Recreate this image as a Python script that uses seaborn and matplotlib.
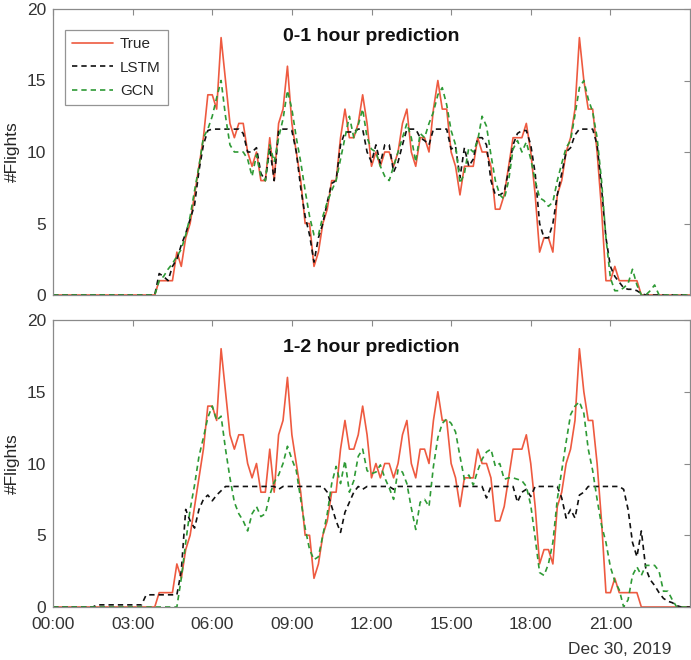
import numpy as np
import pandas as pd
import matplotlib
matplotlib.use("Agg")
import matplotlib.pyplot as plt
import matplotlib.dates as mdates
import seaborn as sns

# ---------------- data (10-minute resolution, Dec 30 2019) ----------------
times = pd.date_range("2019-12-30 00:00", periods=145, freq="10min")

true_flights = ([0] * 24 +
    [1, 1, 1, 1, 3, 2, 4, 5, 7, 9, 11, 14,
     14, 13, 18, 15, 12, 11, 12, 12, 10, 9, 10, 8,
     8, 11, 8, 12, 13, 16, 12, 10, 8, 5, 5, 2,
     3, 5, 6, 8, 8, 11, 13, 11, 11, 12, 14, 12,
     9, 10, 9, 10, 10, 9, 10, 12, 13, 10, 9, 11,
     11, 10, 13, 15, 13, 13, 10, 9, 7, 9, 9, 9,
     11, 10, 10, 9, 6, 6, 7, 9, 11, 11, 11, 12,
     10, 7, 3, 4, 4, 3, 7, 8, 10, 11, 13, 18,
     15, 13, 13, 10, 6, 1, 1, 2, 1, 1, 1, 1,
     1] + [0] * 12)

lstm_1h = ([0] * 24 +
    [1.5, 1.3, 1, 2, 2.5, 3.5, 4.3, 5.3, 6.3, 8.7, 10.5, 11.5] +
    [11.6] * 7 +
    [11.3, 10, 10, 10.3, 8.5,
     8, 10.3, 8, 11.5, 11.6, 11.6, 11.5, 10, 7.5, 5.5, 4.2, 2.3,
     4, 5, 6.5, 7.8, 8, 10.5, 11.4, 11.4, 11.4, 11.6, 11.6, 10,
     9.3, 10.5, 9.2, 10.5, 10.5, 8.6, 9.3, 10.5, 11.6, 11.6, 11.6, 11,
     10.8, 10.5, 11.6, 11.6, 11.6, 11.6, 10.2, 10.4, 8.2, 10.3, 9, 9.5,
     11, 11, 10.5, 8, 7, 7, 7.2, 8.7, 10.5, 11.3, 11.5, 11.5,
     10.5, 8.5, 5, 4, 4, 5, 7, 8.5, 10, 10.3, 11.2, 11.6,
     11.6, 11.6, 11.6, 10.5, 7.5, 4, 2, 1.3, 0.9, 0.5, 0.4, 0.4,
     0.3, 0.1] + [0] * 11)

gcn_1h = ([0] * 24 +
    [1, 1.3, 1.8, 2.2, 2.7, 3.2, 4.2, 5.5, 7.3, 9, 11, 11.6,
     12.5, 13.8, 15, 12.5, 10.5, 10, 10, 10, 9.5, 8.3, 9.8, 8.3,
     8, 10.5, 9.3, 11, 12.3, 14.3, 13, 11, 9.3, 7.3, 5.5, 4.2,
     4.2, 5.5, 6.5, 7.3, 8, 9.5, 11, 12.5, 11, 11.9, 13, 11,
     10.2, 10, 9, 8.3, 8, 9, 10, 11, 12, 11, 9.3, 11.3,
     11, 12, 12.8, 14, 14.5, 13.3, 11.5, 10.5, 7.8, 8.5, 10.3, 10,
     10.8, 12.5, 11.8, 9.8, 8, 7, 6.7, 8, 10.2, 10.8, 10, 10.7,
     9.5, 8, 6.8, 6.6, 6.2, 6.5, 8, 9.2, 10.3, 10.8, 12.6, 14.5,
     15, 13.7, 12.8, 11, 8, 4, 1.2, 0.3, 0.3, 0.5, 0.8, 1.8,
     0.7, 0, 0, 0.3, 0.7, 0] + [0] * 7)

lstm_2h = ([0] * 10 + [0.15] * 11 + [0.8] + [0.85] * 7 +
    [2.5, 6.8, 6, 5.5, 6.8, 7.5, 7.8,
     7.4, 7.8, 8.1, 8.4] + [8.4] * 8 +
    [8.4, 8.4, 8.4, 8.2] + [8.4] * 8 +
    [8.4, 8.4, 8, 7, 6, 5.2, 6.6, 7.3, 8, 8.4, 8.2, 8.4] +
    [8.4] * 5 + [8.2] + [8.4] * 6 +
    [8.4] * 12 +
    [8.4, 8.4, 7.6, 8.4] + [8.4] * 5 + [7.3, 8.0, 8.2,
     7.7, 8.4] + [8.4] * 5 + [7.6, 6.2, 6.8, 6.2, 7.8,
     8.0, 8.4] + [8.4] * 7 + [8.2, 6.8, 4.5,
     3.5, 5.3, 2.7, 1.9, 1.5, 1.0, 0.6, 0.4, 0.3, 0.1] + [0] * 3)

gcn_2h = ([0] * 29 +
    [2, 4.5, 6.8, 8.5, 10.5, 11.8, 13.2,
     14, 13, 13.3, 11, 9, 7.3, 6.5, 6, 5.3, 6.5, 7, 6.3,
     6.5, 7.8, 8.7, 9.2, 10, 11.2, 10.3, 9.5, 7.5, 5.5, 4, 3.3,
     3.5, 5, 6.5, 8.6, 9.8, 8.6, 10.2, 8, 8.8, 10.5, 11, 9.5,
     9.3, 9.4, 9.9, 9, 8.3, 7.5, 9.6, 9.4, 8.6, 6.9, 5.4, 7.3,
     7.5, 7, 9.8, 11.8, 12.8, 13.1, 12.8, 12.2, 10.5, 8.9, 9.2, 8.5,
     9.5, 10.3, 10.8, 11, 9.8, 10, 8.9, 9, 9, 8.9, 8.8, 8.4,
     7.1, 4.8, 2.4, 2.2, 3, 4.5, 7.5, 9.5, 11.5, 13.4, 14, 14.3,
     13.5, 11, 9.5, 7.5, 5.7, 4.5, 2.8, 1.8, 1.2, 0, 0.5, 2.2,
     2.8, 2.2, 2.9, 2.9, 2.9, 2.5, 1.1, 1.1, 0.5, 0] + [0] * 3)

series_names = ["True", "LSTM", "GCN"]
panel_titles = ["0-1 hour prediction", "1-2 hour prediction"]
y_ticks = [0, 5, 10, 15, 20]
x_tick_times = pd.date_range("2019-12-30 00:00", periods=8, freq="3h")
date_label = "Dec 30, 2019"

# ---------------- style ----------------
sns.set_style("white")
plt.rcParams["font.family"] = ["Liberation Sans", "DejaVu Sans"]
plt.rcParams["axes.edgecolor"] = "#8a8a8a"
plt.rcParams["xtick.color"] = "#8a8a8a"
plt.rcParams["ytick.color"] = "#8a8a8a"
plt.rcParams["xtick.labelcolor"] = "#333333"
plt.rcParams["ytick.labelcolor"] = "#333333"

palette = {"True": "#EE5A40", "LSTM": "#111111", "GCN": "#2E9A35"}
dashes = {"True": "", "LSTM": (3.2, 2.4), "GCN": (3.2, 2.4)}

fig = plt.figure(figsize=(6.91, 6.60), dpi=100)
ax1 = fig.add_axes([53 / 691, 1 - 295 / 660, 637 / 691, 286 / 660])
ax2 = fig.add_axes([53 / 691, 1 - 607 / 660, 637 / 691, 287 / 660])

panels = [(ax1, lstm_1h, gcn_1h), (ax2, lstm_2h, gcn_2h)]
for k, (ax, lstm, gcn) in enumerate(panels):
    df = pd.DataFrame({
        "time": list(times) * 3,
        "flights": list(true_flights) + list(lstm) + list(gcn),
        "series": [s for s in series_names for _ in range(len(times))],
    })
    sns.lineplot(data=df, x="time", y="flights", hue="series", style="series",
                 hue_order=series_names, style_order=series_names,
                 palette=palette, dashes=dashes, linewidth=1.2,
                 ax=ax, legend=(k == 0))
    ax.set_xlim(times[0], times[-1])
    ax.set_ylim(0, 20)
    ax.set_yticks(y_ticks)
    ax.set_xticks(x_tick_times)
    ax.xaxis.set_major_formatter(mdates.DateFormatter("%H:%M"))
    ax.tick_params(direction="in", length=4, width=0.8, top=True, right=True,
                   labelsize=12.5)
    ax.tick_params(axis="x", pad=7)
    ax.tick_params(axis="y", pad=5)
    ax.set_xlabel("")
    ax.set_ylabel("#Flights", fontsize=12.5, color="#262626", labelpad=5)
    for sp in ax.spines.values():
        sp.set_linewidth(0.9)
    ax.text(0.5, 0.905, panel_titles[k], transform=ax.transAxes, ha="center",
            va="center", fontsize=14, fontweight="bold", color="#111111")
    if k == 0:
        ax.tick_params(labelbottom=False)
        handles, labels = ax.get_legend_handles_labels()
        leg = ax.legend(handles, labels, loc="upper left",
                        bbox_to_anchor=(0.019, 0.925), fontsize=11,
                        frameon=True, fancybox=False, edgecolor="#7a7a7a",
                        handlelength=2.7, handletextpad=0.45, labelspacing=0.62,
                        borderpad=0.45, borderaxespad=0)
        leg.get_frame().set_linewidth(0.9)

fig.text(620 / 691, 1 - 649 / 660, date_label, ha="center", va="center",
         fontsize=12.5, color="#333333")

fig.savefig("out.png", dpi=100, facecolor="white")
